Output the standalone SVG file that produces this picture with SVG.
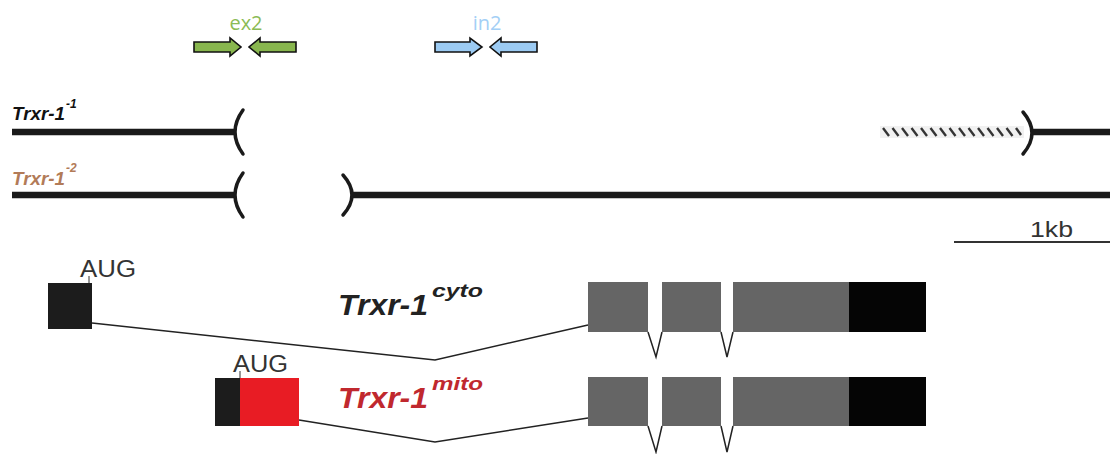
<svg xmlns="http://www.w3.org/2000/svg" width="1110" height="454" viewBox="0 0 1110 454">
  <style>
    .lbl { font-family: "Liberation Sans", Arial, sans-serif; font-style: italic; font-weight: bold; }
    .plain { font-family: "Liberation Sans", Arial, sans-serif; fill: #333; }
    .primer { font-family: "Open Sans", "Noto Sans", sans-serif; font-size: 20px; text-anchor: middle; }
    .gene { stroke: #1a1a1a; stroke-width: 6.5; fill: none; }
    .brk { stroke: #1a1a1a; stroke-width: 3.5; fill: none; stroke-linecap: round; }
    .intron { stroke: #222; stroke-width: 1.5; fill: none; stroke-linejoin: miter; }
    .exon { fill: #656565; }
    .utr { fill: #050505; }
    .arr-g { fill: #88b64e; stroke: #111; stroke-width: 1.6; stroke-linejoin: miter; }
    .arr-b { fill: #9ccbf3; stroke: #111; stroke-width: 1.6; stroke-linejoin: miter; }
    .hatch { stroke: #333; stroke-width: 2.4; }
  </style>

  <rect width="1110" height="454" fill="#ffffff"/>

  <!-- primer pair in exon 2 -->
  <g id="primers-ex2">
    <text class="primer" x="246" y="30" fill="#8bbb55">ex2</text>
    <polygon class="arr-g" points="194,42 230,42 230,38 241,47 230,56 230,52 194,52"/>
    <polygon class="arr-g" points="296,42 260,42 260,38 249,47 260,56 260,52 296,52"/>
  </g>

  <!-- primer pair in intron 2 -->
  <g id="primers-in2">
    <text class="primer" x="487" y="30" fill="#a3cff6">in2</text>
    <polygon class="arr-b" points="435,42 470,42 470,38 482,47 470,56 470,52 435,52"/>
    <polygon class="arr-b" points="537,42 501,42 501,38 490,47 501,56 501,52 537,52"/>
  </g>

  <!-- deletion allele 1 -->
  <g id="allele-1">
    <text class="lbl" x="12" y="120" font-size="19" fill="#111" textLength="53" lengthAdjust="spacingAndGlyphs">Trxr-1</text>
    <text class="lbl" x="66" y="108" font-size="12" fill="#111">-1</text>
    <line class="gene" x1="12" y1="132" x2="236" y2="132"/>
    <path class="brk" d="M243,110 Q227,132 243,154"/>
    <rect x="880" y="126" width="144" height="12" fill="#f1f1f1"/>
    <g class="hatch">
      <line x1="883" y1="128" x2="889" y2="136"/>
      <line x1="892.5" y1="128" x2="898.5" y2="136"/>
      <line x1="902" y1="128" x2="908" y2="136"/>
      <line x1="911.5" y1="128" x2="917.5" y2="136"/>
      <line x1="921" y1="128" x2="927" y2="136"/>
      <line x1="930.5" y1="128" x2="936.5" y2="136"/>
      <line x1="940" y1="128" x2="946" y2="136"/>
      <line x1="949.5" y1="128" x2="955.5" y2="136"/>
      <line x1="959" y1="128" x2="965" y2="136"/>
      <line x1="968.5" y1="128" x2="974.5" y2="136"/>
      <line x1="978" y1="128" x2="984" y2="136"/>
      <line x1="987.5" y1="128" x2="993.5" y2="136"/>
      <line x1="997" y1="128" x2="1003" y2="136"/>
      <line x1="1006.5" y1="128" x2="1012.5" y2="136"/>
      <line x1="1016" y1="128" x2="1021" y2="135"/>
    </g>
    <path class="brk" d="M1023,112 Q1041,133 1023,154"/>
    <line class="gene" x1="1031" y1="132" x2="1110" y2="132"/>
  </g>

  <!-- deletion allele 2 -->
  <g id="allele-2">
    <text class="lbl" x="12" y="185" font-size="19" fill="#b27b58" textLength="53" lengthAdjust="spacingAndGlyphs">Trxr-1</text>
    <text class="lbl" x="66" y="172" font-size="12" fill="#b27b58">-2</text>
    <line class="gene" x1="12" y1="195" x2="236" y2="195"/>
    <path class="brk" d="M243,173 Q227,195 243,217"/>
    <path class="brk" d="M343,175 Q361,195 343,215"/>
    <line class="gene" x1="351" y1="195" x2="1110" y2="195"/>
  </g>

  <!-- scale bar -->
  <g id="scale-bar">
    <text class="plain" x="1030" y="237" font-size="22" fill="#222" textLength="43" lengthAdjust="spacingAndGlyphs">1kb</text>
    <line x1="954" y1="242" x2="1110" y2="242" stroke="#333" stroke-width="2"/>
  </g>

  <!-- intron connectors -->
  <g id="connectors">
    <polyline class="intron" points="92,323 435,360 588,325"/>
    <polyline class="intron" points="648,332 656,357 662,332"/>
    <polyline class="intron" points="721,332 727,357 733,332"/>
    <polyline class="intron" points="299,420 435,442 588,418"/>
    <polyline class="intron" points="648,426 656,452 662,426"/>
    <polyline class="intron" points="721,426 727,452 733,426"/>
  </g>

  <!-- cytosolic isoform -->
  <g id="isoform-cyto">
    <text class="plain" x="80" y="277" font-size="23" textLength="56" lengthAdjust="spacingAndGlyphs">AUG</text>
    <line x1="89" y1="276" x2="89" y2="283" stroke="#333" stroke-width="1"/>
    <rect x="48" y="283" width="44" height="46" fill="#1c1c1c"/>
    <text class="lbl" x="338" y="315" font-size="30" fill="#222" textLength="90" lengthAdjust="spacingAndGlyphs">Trxr-1</text>
    <text class="lbl" x="432" y="297" font-size="19" fill="#222" textLength="51" lengthAdjust="spacingAndGlyphs">cyto</text>
    <rect class="exon" x="588" y="282" width="60" height="50"/>
    <rect class="exon" x="662" y="282" width="59" height="50"/>
    <rect class="exon" x="733" y="282" width="116" height="50"/>
    <rect class="utr" x="849" y="282" width="77" height="50"/>
  </g>

  <!-- mitochondrial isoform -->
  <g id="isoform-mito">
    <text class="plain" x="233" y="372" font-size="23" textLength="55" lengthAdjust="spacingAndGlyphs">AUG</text>
    <line x1="240" y1="371" x2="240" y2="378" stroke="#333" stroke-width="1"/>
    <rect x="215" y="378" width="25" height="48" fill="#1c1c1c"/>
    <rect x="240" y="378" width="59" height="48" fill="#e81c24"/>
    <text class="lbl" x="338" y="408" font-size="30" fill="#c0282e" textLength="90" lengthAdjust="spacingAndGlyphs">Trxr-1</text>
    <text class="lbl" x="432" y="390" font-size="19" fill="#c0282e" textLength="51" lengthAdjust="spacingAndGlyphs">mito</text>
    <rect class="exon" x="588" y="377" width="60" height="49"/>
    <rect class="exon" x="662" y="377" width="59" height="49"/>
    <rect class="exon" x="733" y="377" width="116" height="49"/>
    <rect class="utr" x="849" y="377" width="77" height="49"/>
  </g>
</svg>
